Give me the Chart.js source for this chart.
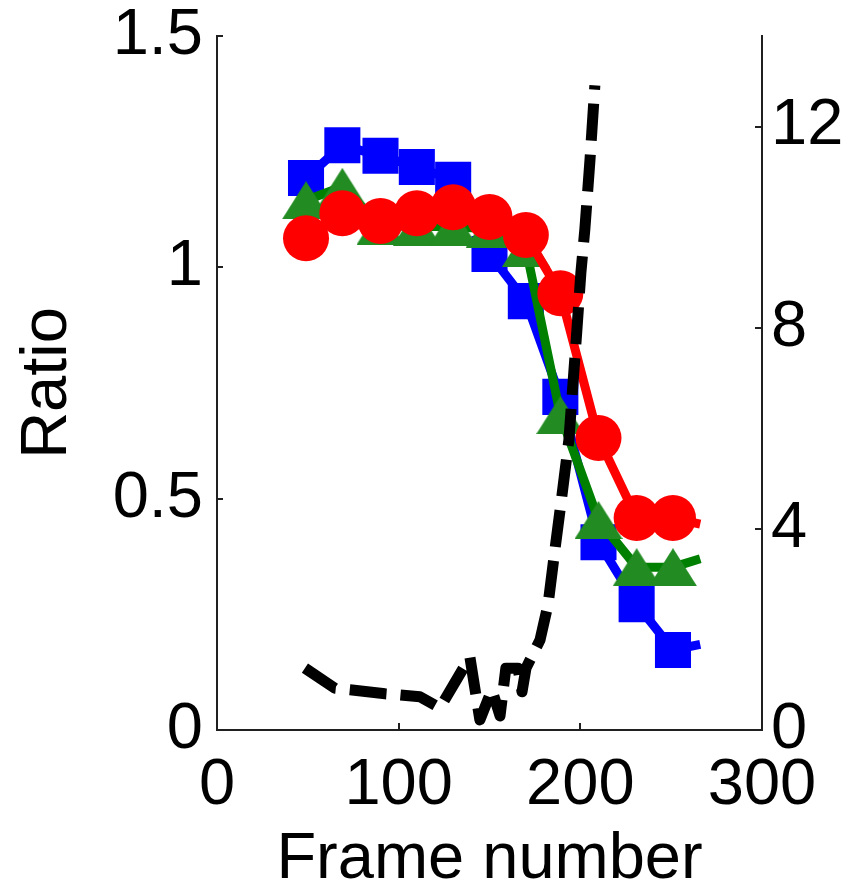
<!DOCTYPE html>
<html>
<head>
<meta charset="utf-8">
<script src="https://cdn.jsdelivr.net/npm/chart.js@4/dist/chart.umd.min.js"></script>
<style>
  html, body { margin: 0; padding: 0; background: #fff; }
  #wrap { width: 852px; height: 885px; }
</style>
</head>
<body>
<div id="wrap"><canvas id="c" width="852" height="885"></canvas></div>
<script>
// Frame numbers of the sampled points (the last one carries no marker)
const frames = [49, 69, 90, 110, 130, 150, 170, 189, 210, 231, 251, 266];

// Ratio series (left axis)
const blueRatio  = [1.193, 1.264, 1.241, 1.217, 1.189, 1.029, 0.927, 0.720, 0.406, 0.272, 0.173, 0.185];
const greenRatio = [1.145, 1.174, 1.090, 1.088, 1.088, 1.083, 1.042, 0.681, 0.454, 0.352, 0.352, 0.370];
const redRatio   = [1.063, 1.117, 1.100, 1.117, 1.130, 1.109, 1.070, 0.944, 0.631, 0.458, 0.458, 0.445];

// Dashed curve (right axis)
const dashFrames = [48.4, 64.9, 73.2, 92.5, 99.6, 111.7, 122.7, 139.2, 144.7, 151.3, 155.8, 159.0, 165.7,
                    167.9, 170.1, 177.8, 182.2, 186.0, 189.9, 193.7, 195.9, 198.1, 200.3, 202.5, 205.3, 208.0];
const dashValues = [1.23, 0.83, 0.80, 0.72, 0.70, 0.66, 0.44, 1.45, 0.20, 0.80, 0.28, 1.23, 1.23,
                    0.76, 1.23, 1.79, 2.49, 3.58, 4.67, 5.77, 6.86, 7.95, 9.09, 9.96, 11.33, 12.82];

// Axis ticks
const frameTicks = [0, 100, 200, 300];
const ratioTicks = [0, 0.5, 1, 1.5];
const rightTicks = [0, 4, 8, 12];

const FONT = '"Liberation Sans", Arial, sans-serif';
const AXIS_COLOR = '#202020';
const TEXT_COLOR = '#000000';

function triangleMarker(w, h, color) {
  const c = document.createElement('canvas');
  c.width = w; c.height = h;
  const g = c.getContext('2d');
  g.fillStyle = color;
  g.beginPath();
  g.moveTo(w / 2, 0);
  g.lineTo(w, h);
  g.lineTo(0, h);
  g.closePath();
  g.fill();
  return c;
}

const markedCount = frames.length - 1;
const markerRadius = (r) => frames.map((f, i) => (i < markedCount ? r : 0));
const toPoints = (xs, ys) => xs.map((x, i) => ({ x: x, y: ys[i] }));

// Tick marks that point into the plot area
const inwardTicks = {
  id: 'inwardTicks',
  afterDraw(chart) {
    const { ctx, chartArea: a, scales } = chart;
    ctx.save();
    ctx.strokeStyle = AXIS_COLOR;
    ctx.lineWidth = 2;
    ctx.beginPath();
    frameTicks.forEach(v => {
      const px = Math.round(scales.x.getPixelForValue(v));
      ctx.moveTo(px, a.bottom);
      ctx.lineTo(px, a.bottom - 7);
    });
    ratioTicks.forEach(v => {
      const py = Math.round(scales.y.getPixelForValue(v));
      ctx.moveTo(a.left, py);
      ctx.lineTo(a.left + 6, py);
    });
    rightTicks.forEach(v => {
      const py = Math.round(scales.y1.getPixelForValue(v));
      ctx.moveTo(a.right, py);
      ctx.lineTo(a.right - 7, py);
    });
    ctx.stroke();
    ctx.restore();
  }
};

const tickFont = { family: FONT, size: 65, lineHeight: 1.0 };

new Chart(document.getElementById('c'), {
  type: 'line',
  data: {
    datasets: [
      {
        data: toPoints(dashFrames, dashValues),
        yAxisID: 'y1',
        borderColor: '#000000',
        borderWidth: 11,
        borderDash: [37, 14],
        borderJoinStyle: 'round',
        pointRadius: 0,
        fill: false,
        order: 0
      },
      {
        data: toPoints(frames, redRatio),
        yAxisID: 'y',
        borderColor: '#ff0000',
        borderWidth: 9,
        pointStyle: 'circle',
        pointRadius: markerRadius(23),
        pointBackgroundColor: '#ff0000',
        pointBorderWidth: 0,
        fill: false,
        order: 1
      },
      {
        data: toPoints(frames, greenRatio),
        yAxisID: 'y',
        borderColor: '#008000',
        borderWidth: 9,
        pointStyle: triangleMarker(48, 38, '#228b22'),
        pointRadius: markerRadius(20),
        pointBackgroundColor: '#228b22',
        pointBorderWidth: 0,
        fill: false,
        order: 2
      },
      {
        data: toPoints(frames, blueRatio),
        yAxisID: 'y',
        borderColor: '#0000ff',
        borderWidth: 9,
        pointStyle: 'rect',
        pointRadius: markerRadius(25.5),
        pointBackgroundColor: '#0000ff',
        pointBorderWidth: 0,
        fill: false,
        order: 3
      }
    ]
  },
  options: {
    responsive: false,
    devicePixelRatio: 1,
    animation: false,
    clip: false,
    layout: { padding: { top: 36, left: 0, right: 0, bottom: 0 } },
    plugins: { legend: { display: false }, tooltip: { enabled: false } },
    scales: {
      x: {
        type: 'linear',
        position: 'bottom',
        min: 0, max: 300,
        afterBuildTicks: s => { s.ticks = frameTicks.map(v => ({ value: v })); },
        afterFit: s => { s.height = 155; s.paddingLeft = 0; s.paddingRight = 0; },
        grid: { display: false, drawTicks: false },
        border: { display: true, color: AXIS_COLOR, width: 2 },
        ticks: { font: tickFont, color: TEXT_COLOR, padding: 24, maxRotation: 0, autoSkip: false,
                 callback: v => String(v) },
        title: { display: true, text: 'Frame number', color: TEXT_COLOR,
                 font: { family: FONT, size: 65, lineHeight: 0.7 }, padding: { top: 0, bottom: 2 } }
      },
      y: {
        type: 'linear',
        position: 'left',
        min: 0, max: 1.5,
        afterBuildTicks: s => { s.ticks = ratioTicks.map(v => ({ value: v })); },
        afterFit: s => { s.width = 217; s.paddingTop = 0; s.paddingBottom = 0; },
        grid: { display: false, drawTicks: false },
        border: { display: true, color: AXIS_COLOR, width: 2 },
        ticks: { font: tickFont, color: TEXT_COLOR, padding: 14, autoSkip: false,
                 callback: v => String(v) },
        title: { display: true, text: 'Ratio', color: TEXT_COLOR,
                 font: { family: FONT, size: 65, lineHeight: 1.2 }, padding: { top: 9, bottom: 0 } }
      },
      y1: {
        type: 'linear',
        position: 'right',
        min: 0, max: 13.8,
        afterBuildTicks: s => { s.ticks = rightTicks.map(v => ({ value: v })); },
        afterFit: s => { s.width = 90; s.paddingTop = 0; s.paddingBottom = 0; },
        grid: { display: false, drawTicks: false },
        border: { display: true, color: AXIS_COLOR, width: 2 },
        ticks: { font: tickFont, color: TEXT_COLOR, padding: 9, autoSkip: false,
                 callback: v => String(v) }
      }
    }
  },
  plugins: [inwardTicks]
});
</script>
</body>
</html>
